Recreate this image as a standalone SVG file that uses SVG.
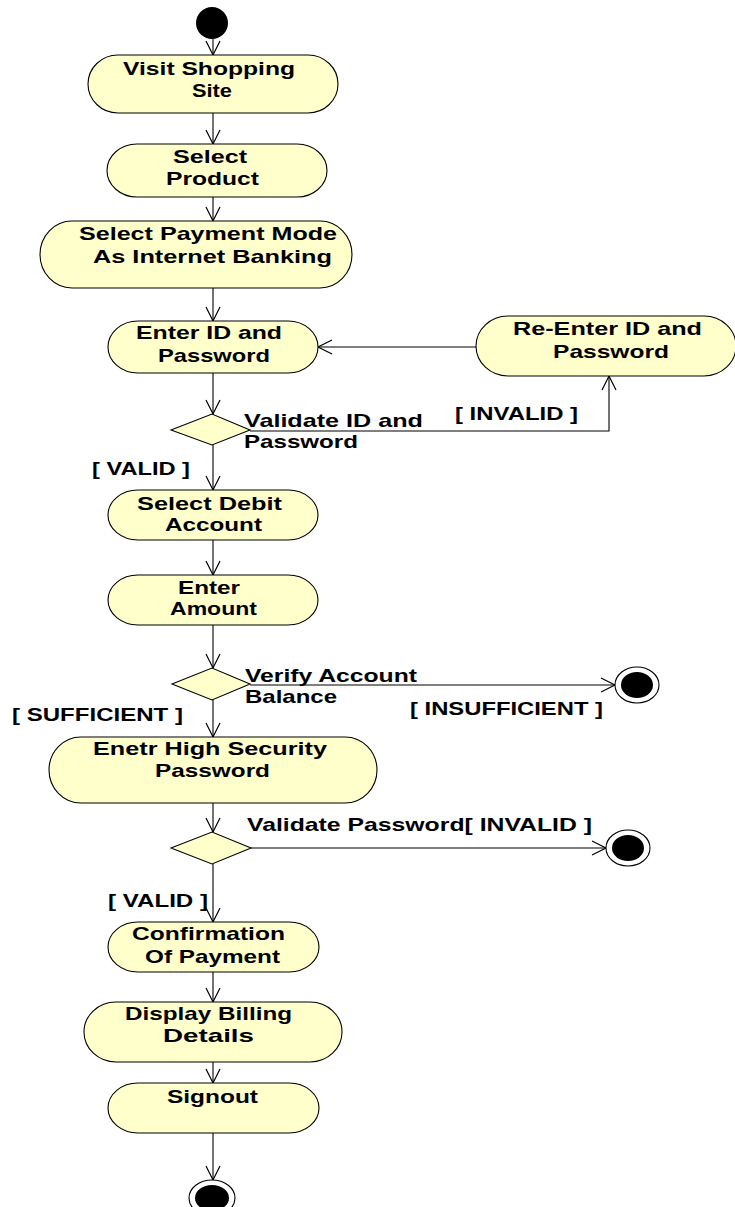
<svg xmlns="http://www.w3.org/2000/svg" width="735" height="1207" viewBox="0 0 735 1207">
<style>
  .node { fill: #FFFFCC; stroke: #000; stroke-width: 1.1; }
  .t { font-family: "Liberation Sans", Arial, sans-serif; font-weight: bold; font-size: 19px; fill: #000; }
  .c { text-anchor: middle; }
  .edge { fill: none; stroke: #000; stroke-width: 1.1; marker-end: url(#arr); }
  .ring { fill: #fff; stroke: #000; stroke-width: 1.1; }
  .dot { fill: #000; }
</style>
<defs>
  <marker id="arr" viewBox="-16 -9 18 18" refX="0" refY="0" markerWidth="18" markerHeight="18" markerUnits="userSpaceOnUse" orient="auto">
    <path d="M-14,-7 L0,0 L-14,7" fill="none" stroke="#000" stroke-width="1.2"/>
  </marker>
</defs>
<rect width="735" height="1207" fill="#fff"/>

<g id="connectors">
  <line class="edge" x1="213" y1="39" x2="213" y2="55"/>
  <line class="edge" x1="213" y1="113" x2="213" y2="144"/>
  <line class="edge" x1="213" y1="197" x2="213" y2="221"/>
  <line class="edge" x1="213" y1="288" x2="213" y2="321"/>
  <line class="edge" x1="476" y1="347" x2="318" y2="347"/>
  <line class="edge" x1="213" y1="373" x2="213" y2="414"/>
  <polyline class="edge" points="250,431 609,431 609,376"/>
  <line class="edge" x1="213" y1="445" x2="213" y2="490"/>
  <line class="edge" x1="213" y1="540" x2="213" y2="575"/>
  <line class="edge" x1="213" y1="625" x2="213" y2="668"/>
  <line class="edge" x1="250" y1="685" x2="615" y2="685"/>
  <line class="edge" x1="213" y1="700" x2="213" y2="737"/>
  <line class="edge" x1="213" y1="803" x2="213" y2="832"/>
  <line class="edge" x1="251" y1="848" x2="606" y2="848"/>
  <line class="edge" x1="213" y1="864" x2="213" y2="922"/>
  <line class="edge" x1="213" y1="972" x2="213" y2="1002"/>
  <line class="edge" x1="213" y1="1062" x2="213" y2="1083"/>
  <line class="edge" x1="213" y1="1133" x2="213" y2="1180"/>
</g>

<g id="start">
  <circle class="dot" cx="212" cy="23" r="16"/>
</g>

<g id="visit">
  <rect class="node" x="88" y="55" width="250" height="58" rx="30" ry="29"/>
  <text class="t c" x="209" y="75" textLength="172" lengthAdjust="spacingAndGlyphs">Visit Shopping</text>
  <text class="t c" x="212" y="97" textLength="40" lengthAdjust="spacingAndGlyphs">Site</text>
</g>

<g id="selectProduct">
  <rect class="node" x="107" y="144" width="220" height="53" rx="30" ry="26.5"/>
  <text class="t c" x="210" y="163" textLength="74" lengthAdjust="spacingAndGlyphs">Select</text>
  <text class="t c" x="212.5" y="185" textLength="93" lengthAdjust="spacingAndGlyphs">Product</text>
</g>

<g id="paymentMode">
  <rect class="node" x="40" y="221" width="312" height="67" rx="32" ry="33.5"/>
  <text class="t c" x="208" y="240" textLength="258" lengthAdjust="spacingAndGlyphs">Select Payment Mode</text>
  <text class="t c" x="212.5" y="263" textLength="239" lengthAdjust="spacingAndGlyphs">As Internet Banking</text>
</g>

<g id="enterId">
  <rect class="node" x="108" y="321" width="210" height="52" rx="30" ry="26"/>
  <text class="t c" x="209" y="339" textLength="146" lengthAdjust="spacingAndGlyphs">Enter ID and</text>
  <text class="t c" x="214" y="362" textLength="112" lengthAdjust="spacingAndGlyphs">Password</text>
</g>

<g id="reEnterId">
  <rect class="node" x="476" y="316" width="260" height="60" rx="32" ry="30"/>
  <text class="t c" x="607.5" y="335" textLength="189" lengthAdjust="spacingAndGlyphs">Re-Enter ID and</text>
  <text class="t c" x="611" y="358" textLength="116" lengthAdjust="spacingAndGlyphs">Password</text>
</g>

<g id="decision1">
  <polygon class="node" points="171,430 212,414 250,430 212,445"/>
  <text class="t" x="244" y="427" textLength="179" lengthAdjust="spacingAndGlyphs">Validate ID and</text>
  <text class="t" x="244" y="448" textLength="114" lengthAdjust="spacingAndGlyphs">Password</text>
  <text class="t" x="455" y="420" textLength="123" lengthAdjust="spacingAndGlyphs">[ INVALID ]</text>
  <text class="t" x="92" y="475" textLength="98" lengthAdjust="spacingAndGlyphs">[ VALID ]</text>
</g>

<g id="selectDebit">
  <rect class="node" x="108" y="490" width="210" height="50" rx="30" ry="25"/>
  <text class="t c" x="209.5" y="510" textLength="145" lengthAdjust="spacingAndGlyphs">Select Debit</text>
  <text class="t c" x="213.5" y="531" textLength="97" lengthAdjust="spacingAndGlyphs">Account</text>
</g>

<g id="enterAmount">
  <rect class="node" x="108" y="575" width="210" height="50" rx="30" ry="25"/>
  <text class="t c" x="209" y="594" textLength="62" lengthAdjust="spacingAndGlyphs">Enter</text>
  <text class="t c" x="213.5" y="615" textLength="87" lengthAdjust="spacingAndGlyphs">Amount</text>
</g>

<g id="decision2">
  <polygon class="node" points="172,684 212,668 250,684 212,700"/>
  <text class="t" x="245" y="682" textLength="172" lengthAdjust="spacingAndGlyphs">Verify Account</text>
  <text class="t" x="245" y="703" textLength="92" lengthAdjust="spacingAndGlyphs">Balance</text>
  <text class="t" x="410" y="715" textLength="193" lengthAdjust="spacingAndGlyphs">[ INSUFFICIENT ]</text>
  <text class="t" x="12" y="721" textLength="171" lengthAdjust="spacingAndGlyphs">[ SUFFICIENT ]</text>
</g>

<g id="end1">
  <ellipse class="ring" cx="637" cy="685" rx="22" ry="18"/>
  <ellipse class="dot" cx="637" cy="685" rx="16" ry="13"/>
</g>

<g id="highSecurity">
  <rect class="node" x="49" y="737" width="328" height="66" rx="32" ry="33"/>
  <text class="t c" x="210" y="755" textLength="234" lengthAdjust="spacingAndGlyphs">Enetr High Security</text>
  <text class="t c" x="212.5" y="777" textLength="115" lengthAdjust="spacingAndGlyphs">Password</text>
</g>

<g id="decision3">
  <polygon class="node" points="171,848 212,832 251,848 212,864"/>
  <text class="t" x="247" y="831" textLength="345" lengthAdjust="spacingAndGlyphs">Validate Password[ INVALID ]</text>
  <text class="t" x="108" y="907" textLength="100" lengthAdjust="spacingAndGlyphs">[ VALID ]</text>
</g>

<g id="end2">
  <ellipse class="ring" cx="628" cy="848" rx="22" ry="18"/>
  <ellipse class="dot" cx="628" cy="848" rx="16" ry="13"/>
</g>

<g id="confirmation">
  <rect class="node" x="108" y="922" width="211" height="50" rx="30" ry="25"/>
  <text class="t c" x="208.5" y="940" textLength="153" lengthAdjust="spacingAndGlyphs">Confirmation</text>
  <text class="t c" x="212.5" y="963" textLength="135" lengthAdjust="spacingAndGlyphs">Of Payment</text>
</g>

<g id="billing">
  <rect class="node" x="84" y="1002" width="258" height="60" rx="32" ry="30"/>
  <text class="t c" x="208.5" y="1020" textLength="167" lengthAdjust="spacingAndGlyphs">Display Billing</text>
  <text class="t c" x="208.5" y="1042" textLength="91" lengthAdjust="spacingAndGlyphs">Details</text>
</g>

<g id="signout">
  <rect class="node" x="108" y="1083" width="211" height="50" rx="30" ry="25"/>
  <text class="t c" x="212.5" y="1103" textLength="91" lengthAdjust="spacingAndGlyphs">Signout</text>
</g>

<g id="end3">
  <ellipse class="ring" cx="212" cy="1198" rx="23" ry="18"/>
  <ellipse class="dot" cx="212" cy="1198" rx="17" ry="13"/>
</g>
</svg>
